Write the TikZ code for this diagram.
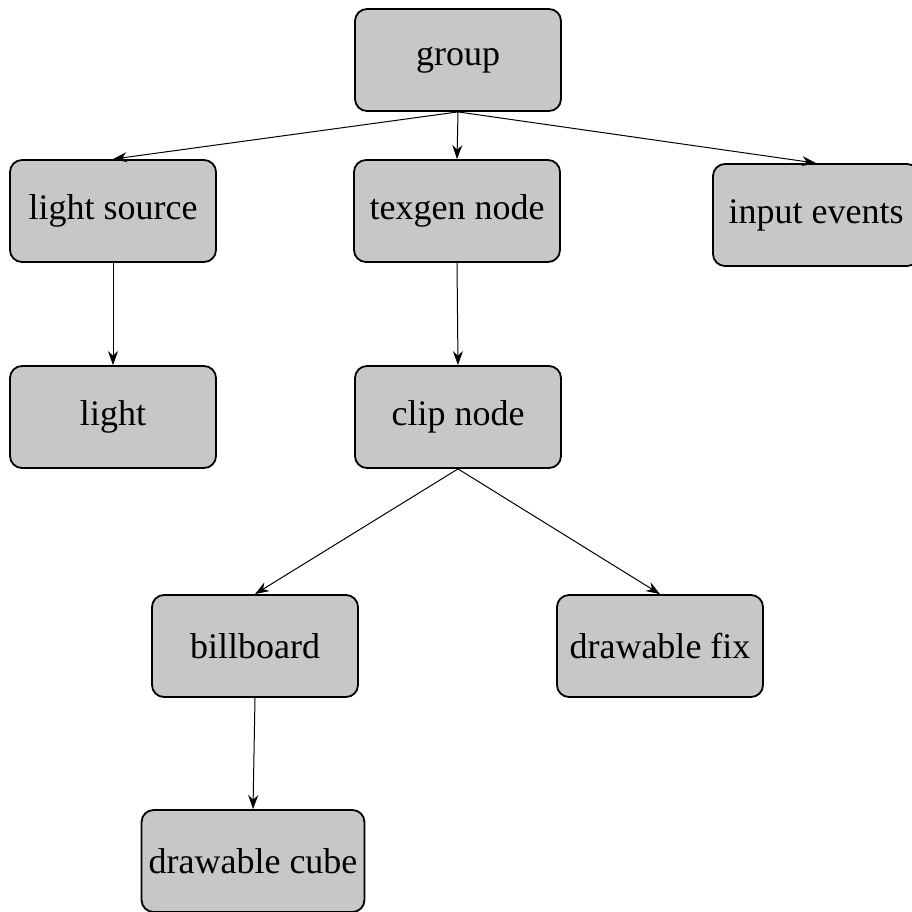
\documentclass[tikz,border=0pt]{standalone}
\usepackage{fontspec}
\setmainfont{Liberation Serif}
\usepackage{tikz}
\usetikzlibrary{arrows.meta,positioning}
\definecolor{boxgray}{RGB}{199,199,199}
\tikzset{
  blk/.style={draw, line width=1.8pt, fill=boxgray, rounded corners=12pt,
    minimum width=206pt, minimum height=102pt, inner sep=7pt,
    font=\fontsize{36}{40}\selectfont},
  lnk/.style={-{Stealth[length=14pt,width=10pt]}, line width=1pt},
}

\begin{document}
\begin{tikzpicture}[x=1pt, y=-1pt]
  \useasboundingbox (0,0) rectangle (912,911);
  \node[blk] (grp)    at (458,60)  {group};
  \node[blk] (lsrc)   at (113,211) {light source};
  \node[blk] (texgen) at (457,211) {texgen node};
  \node[blk] (input)  at (816,215) {input events};
  \node[blk] (light)  at (113,417) {light};
  \node[blk] (clip)   at (458,417) {clip node};
  \node[blk] (bill)   at (255,646) {billboard};
  \node[blk] (dfix)   at (660,646) {drawable fix};
  \node[blk] (dcube)  at (253,861) {drawable cube};
  \foreach \a/\b in {grp/lsrc,grp/texgen,grp/input,lsrc/light,texgen/clip,clip/bill,clip/dfix,bill/dcube}
    \draw[lnk] (\a.south) -- (\b.north);
\end{tikzpicture}
\end{document}
